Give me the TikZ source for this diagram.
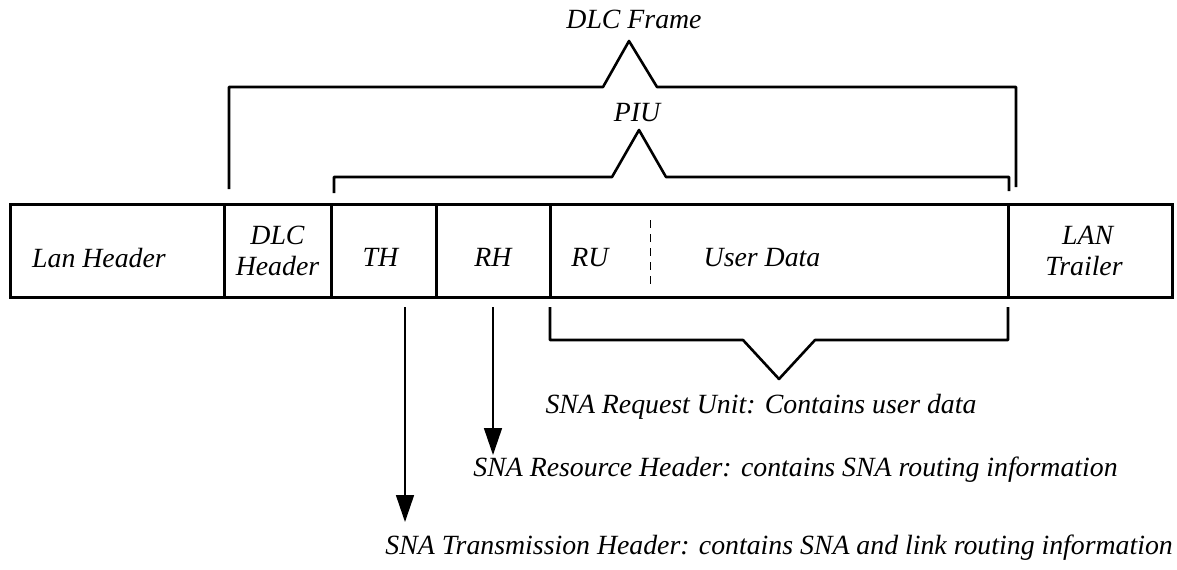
\documentclass[tikz,border=0pt]{standalone}
\usepackage{fontspec}
\setmainfont{Liberation Serif}
\usetikzlibrary{positioning,arrows.meta}

\tikzset{
  field/.style = {draw, line width=1.5pt, minimum height=46.5pt, inner sep=0pt, outer sep=0pt},
  lbl/.style = {font=\fontsize{13.9}{15.5}\selectfont\itshape, align=center, inner sep=0pt},
  brace/.style = {line width=1.3pt, line join=round},
  arr/.style = {line width=0.8pt, -{Triangle[length=13.5pt,width=9pt]}}
}

\begin{document}
\begin{tikzpicture}[x=0.5pt, y=-0.5pt]
	\useasboundingbox (0,0) rectangle (1177,569);
	% the frame fields
	\node[field, minimum width=107pt] (lanf) at (117,250.5) {};
	\node[field, minimum width=53.5pt, right=0pt of lanf] (dlcf) {};
	\node[field, minimum width=52.5pt, right=0pt of dlcf] (thf) {};
	\node[field, minimum width=57pt, right=0pt of thf] (rhf) {};
	\node[field, minimum width=229pt, right=0pt of rhf] (ruf) {};
	\node[field, minimum width=82pt, right=0pt of ruf] (trlf) {};
	\draw[dashed, line width=0.4pt, dash pattern=on 4pt off 3pt] (650,220) -- (650,288);
	% field texts
	\node[lbl] (lant) at ([xshift=-9pt,yshift=-3.5pt]lanf.center) {Lan Header};
	\node[lbl] (dlct) at (dlcf.center) {DLC\\Header};
	\node[lbl] (tht) at ([xshift=-1.5pt,yshift=-3.5pt]thf.center) {TH};
	\node[lbl] (rht) at ([yshift=-3.5pt]rhf.center) {RH};
	\node[lbl] (rut) at (590,258) {RU};
	\node[lbl] (udt) at (762,258) {User Data};
	\node[lbl, align=left] (trlt) at ([xshift=-3pt]trlf.center) {\hspace{0.6em}LAN\\Trailer};
	% brackets over and under the frame
	\draw[brace] (229,189) -- (229,87) -- (603,87) -- (629,41) -- (657,87) -- (1016,87) -- (1016,187);
	\node[lbl] (dlcframe) at (634,19) {DLC Frame};
	\draw[brace] (334,193) -- (334,177) -- (612,177) -- (639,130) -- (666,177) -- (1009,177) -- (1009,191);
	\node[lbl] (piu) at (637,113) {PIU};
	\draw[brace] (550,307) -- (550,340) -- (743,340) -- (779,379) -- (815,340) -- (1008,340) -- (1008,307);
	\node[lbl] (runote) at (761,407) {SNA Request Unit: Contains user data};
	% header arrows
	\coordinate (rhtop) at (493,307);
	\coordinate (rhtip) at (493,455);
	\coordinate (thtop) at (405,307);
	\coordinate (thtip) at (405,522);
	\draw[arr] (rhtop) -- (rhtip);
	\draw[arr] (thtop) -- (thtip);
	\node[lbl, anchor=west] (rhnote) at (473,470) {SNA Resource Header: contains SNA routing information};
	\node[lbl, anchor=west] (thnote) at (385,548) {SNA Transmission Header: contains SNA and link routing information};
\end{tikzpicture}
\end{document}
